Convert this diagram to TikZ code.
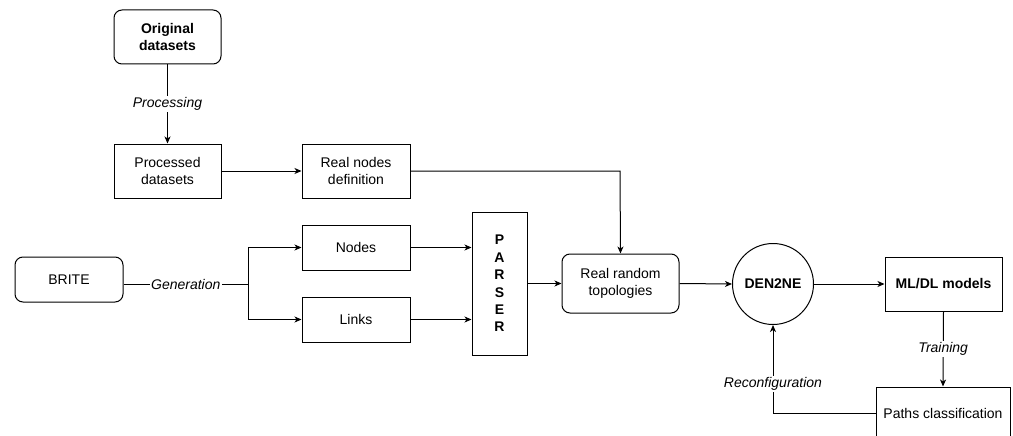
\documentclass[tikz,border=0pt]{standalone}
\usepackage{fontspec}
\setmainfont{Liberation Sans}
\usetikzlibrary{arrows.meta,calc}
\begin{document}
\begin{tikzpicture}[x=1pt,y=-1pt,
  every node/.style={font=\fontsize{14}{17.5}\selectfont, inner sep=0pt},
  box/.style={draw, line width=1pt, minimum width=#1, align=center},
  box/.default=108,
  rbox/.style={box=#1, rounded corners=8pt},
  rbox/.default=108,
  conn/.style={line width=1pt, -{Stealth[length=7pt,width=6pt,inset=2pt]}},
  plain/.style={line width=1pt},
  elabel/.style={fill=white, font=\fontsize{14}{17}\selectfont\itshape, inner sep=1.5pt}
]
\clip (0,0) rectangle (1013,436);
\useasboundingbox (0,0) rectangle (1013,436);

\node[rbox=107, minimum height=54, font=\fontsize{14}{17.5}\selectfont\bfseries] (orig) at (167.5,37) {Original\\datasets};
\node[box=107, minimum height=54] (proc) at (167.5,171) {Processed\\datasets};
\node[box=108, minimum height=54] (realdef) at (356,171) {Real nodes\\definition};
\node[rbox=108, minimum height=45] (brite) at (69,279.5) {BRITE};
\node[box=108, minimum height=45] (nodesN) at (356,247.5) {Nodes};
\node[box=108, minimum height=45] (links) at (356,319.5) {Links};
\node[box=55, minimum height=143, font=\fontsize{14}{17.4}\selectfont\bfseries] (parser) at (499.5,283.5) {P\\A\\R\\S\\E\\R};
\node[rbox=117, minimum height=59] (rrt) at (620.5,283.5) {Real random\\topologies};
\node[draw, line width=1pt, circle, minimum size=81, font=\fontsize{14}{17}\selectfont\bfseries] (den) at (773,284) {DEN2NE};
\node[box=117, minimum height=54, font=\fontsize{14}{17}\selectfont\bfseries] (ml) at (943.5,284) {ML/DL models};
\node[box=134, minimum height=53] (paths) at (943,413.5) {Paths classification};

\coordinate (branch) at (248,284);
\coordinate (bend) at (620,171);

\draw[conn] (orig) -- node[elabel] {Processing} (proc);
\draw[conn] (proc) -- (realdef);
\draw[conn] (realdef.east) -- (bend) -- (rrt.north);
\draw[plain] (brite.east |- branch) -- node[elabel] {Generation} (branch);
\draw[conn] (branch) |- (nodesN.west);
\draw[conn] (branch) |- (links.west);
\draw[conn] (nodesN.east) -- (parser.west |- nodesN.east);
\draw[conn] (links.east) -- (parser.west |- links.east);
\draw[conn] (parser.east |- rrt.west) -- (rrt.west);
\draw[conn] (rrt.east) -- (den.west);
\draw[conn] (den.east) -- (ml.west);
\draw[conn] (ml.south) -- node[elabel] {Training} (paths.north);
\draw[conn] (paths.west) -| node[elabel, pos=0.665] {Reconfiguration} (den.south);
\end{tikzpicture}
\end{document}
